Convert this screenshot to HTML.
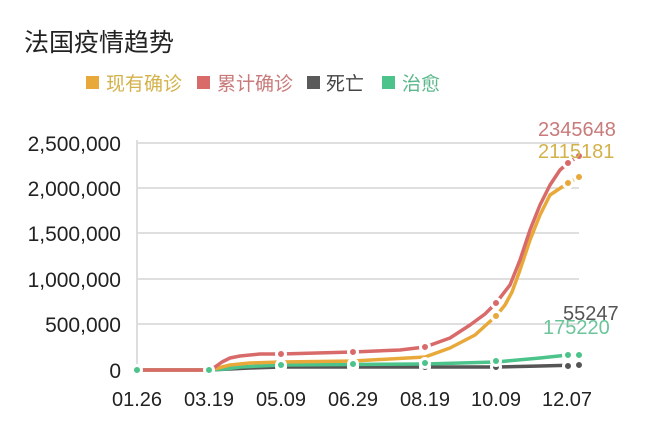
<!DOCTYPE html>
<html><head><meta charset="utf-8"><style>
body{margin:0;background:#fff;width:650px;height:441px;overflow:hidden}
svg{font-family:"Liberation Sans","Noto Sans CJK SC",sans-serif}
</style></head><body>
<svg width="650" height="441" xmlns="http://www.w3.org/2000/svg">
<text x="24" y="51" font-size="25" fill="#222" font-family="Noto Sans CJK SC, sans-serif">法国疫情趋势</text>
<g font-size="19" font-family="Noto Sans CJK SC, sans-serif">
<rect x="86" y="76" width="13" height="13" fill="#e8a93a"/><text x="106" y="90" fill="#d4b24a">现有确诊</text>
<rect x="197" y="76" width="13" height="13" fill="#d96a6a"/><text x="217" y="90" fill="#c97a7a">累计确诊</text>
<rect x="307" y="76" width="13" height="13" fill="#5a5a5a"/><text x="326" y="90" fill="#444">死亡</text>
<rect x="382" y="76" width="13" height="13" fill="#4cc38a"/><text x="402" y="90" fill="#5cb88a">治愈</text>
</g>
<g stroke="#ccc" stroke-width="1.2">
<line x1="137" y1="143" x2="579" y2="143"/><line x1="137" y1="188" x2="579" y2="188"/>
<line x1="137" y1="233" x2="579" y2="233"/><line x1="137" y1="279" x2="579" y2="279"/>
<line x1="137" y1="324" x2="579" y2="324"/>
<line x1="137" y1="140" x2="137" y2="372" stroke="#ddd" stroke-width="2"/>
</g>
<g font-size="21" fill="#222" text-anchor="end">
<text x="121" y="151">2,500,000</text><text x="121" y="196">2,000,000</text>
<text x="121" y="241">1,500,000</text><text x="121" y="287">1,000,000</text>
<text x="121" y="332">500,000</text><text x="121" y="378">0</text>
</g>
<g font-size="20" fill="#222" text-anchor="middle">
<text x="137" y="406">01.26</text><text x="209" y="406">03.19</text><text x="281" y="406">05.09</text>
<text x="353" y="406">06.29</text><text x="425" y="406">08.19</text><text x="496" y="406">10.09</text><text x="567" y="406">12.07</text>
</g>
<g fill="none" stroke-width="3.5" stroke-linejoin="round">
<polyline stroke="#555" points="137,370 209,370 250,368 281,367 496,367 540,366 579,365"/>
<polyline stroke="#4cc38a" points="137,370 209,370 225,369 240,367 260,366 281,365 425,364 496,362 540,358 568,355 579,355"/>
<polyline stroke="#e8a93a" points="137,370 209,370 218,368 230,365 250,363 281,362 353,361 425,357 450,348 475,335 496,316 505,305 512,292 520,270 530,240 540,215 550,195 568,183 579,177"/>
<polyline stroke="#d96a6a" points="137,370 209,370 215,367 222,362 230,358 240,356 260,354 281,354 353,352 400,350 425,347 450,338 470,325 485,314 496,303 510,285 520,260 530,230 540,205 550,185 560,170 568,163 579,156"/>
</g>
<g stroke="#fff" stroke-width="3">
<circle cx="281" cy="367" r="4.5" fill="#555"/><circle cx="353" cy="367" r="4.5" fill="#555"/><circle cx="425" cy="367" r="4.5" fill="#555"/><circle cx="496" cy="367" r="4.5" fill="#555"/><circle cx="568" cy="366" r="4.5" fill="#555"/><circle cx="579" cy="365" r="4.5" fill="#555"/>
<circle cx="137" cy="370" r="4.5" fill="#4cc38a"/><circle cx="209" cy="370" r="4.5" fill="#4cc38a"/><circle cx="281" cy="365" r="4.5" fill="#4cc38a"/><circle cx="353" cy="364" r="4.5" fill="#4cc38a"/><circle cx="425" cy="363" r="4.5" fill="#4cc38a"/><circle cx="496" cy="361" r="4.5" fill="#4cc38a"/><circle cx="568" cy="355" r="4.5" fill="#4cc38a"/><circle cx="579" cy="355" r="4.5" fill="#4cc38a"/>
<circle cx="496" cy="316" r="4.5" fill="#e8a93a"/><circle cx="568" cy="183" r="4.5" fill="#e8a93a"/><circle cx="579" cy="177" r="4.5" fill="#e8a93a"/>
<circle cx="281" cy="354" r="4.5" fill="#d96a6a"/><circle cx="353" cy="352" r="4.5" fill="#d96a6a"/><circle cx="425" cy="347" r="4.5" fill="#d96a6a"/><circle cx="496" cy="303" r="4.5" fill="#d96a6a"/><circle cx="568" cy="163" r="4.5" fill="#d96a6a"/><circle cx="579" cy="156" r="4.5" fill="#d96a6a"/>
</g>
<g font-size="20">
<text x="538" y="136" fill="#c97a7a">2345648</text>
<text x="538" y="158" fill="#d4b24a">2115181</text>
<text x="563" y="320" fill="#555">55247</text>
<text x="543" y="334" fill="#6cc59a">175220</text>
</g>
</svg>
</body></html>
